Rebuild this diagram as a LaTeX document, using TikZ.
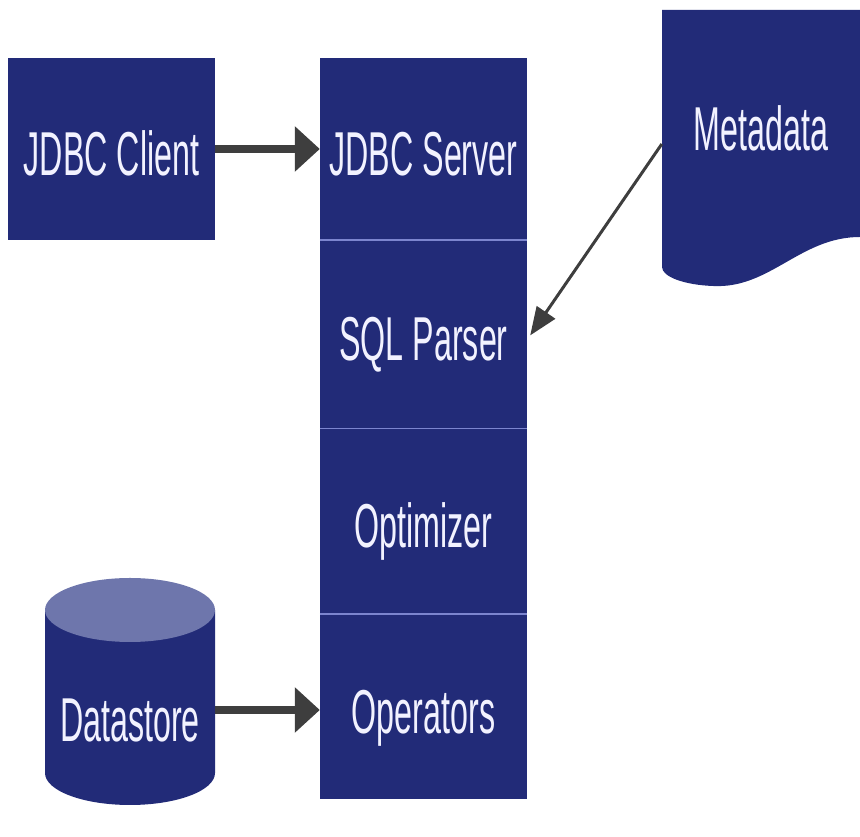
\documentclass[tikz,border=0pt]{standalone}
\usepackage{fontspec}
\setmainfont{Liberation Sans}[FakeStretch=0.52]
\usetikzlibrary{arrows.meta,positioning}

\definecolor{navy}{HTML}{222B78}
\definecolor{lidblue}{HTML}{6E76AC}
\definecolor{divline}{HTML}{7C85CF}
\definecolor{arrgray}{HTML}{3E3E3E}
\definecolor{txt}{HTML}{F2F2FF}

\begin{document}
\begin{tikzpicture}[x=1pt, y=1pt,
    block/.style={fill=navy, minimum width=207pt, inner sep=0pt, text=txt,
      text height=53pt, text depth=0pt, font=\fontsize{62}{70}\selectfont},
    label/.style={text=txt, inner sep=0pt, font=\fontsize{62}{70}\selectfont},
    divider/.style={draw=divline, line width=1.5pt},
    thickarrow/.style={draw=arrgray, line width=8pt, -{Triangle[length=25pt,width=44pt]}},
    thinarrow/.style={draw=arrgray, line width=3pt, -{Triangle[length=28pt,width=22pt]}}]
  \useasboundingbox (0,0) rectangle (860,837);

  % client and server stack
  \node (client) [block, minimum height=182pt] at (111.5,688) {JDBC Client};
  \node (server) [block, minimum height=182pt] at (423.5,688) {JDBC Server};
  \node (parser) [block, minimum height=188pt, below=0pt of server] {SQL Parser};
  \node (optimizer) [block, minimum height=185pt, below=0pt of parser] {Optimizer};
  \node (operators) [block, minimum height=185pt, below=0pt of optimizer] {Operators};
  \draw[divider] (server.south west) -- (server.south east);
  \draw[divider] (parser.south west) -- (parser.south east);
  \draw[divider] (optimizer.south west) -- (optimizer.south east);

  % metadata document
  \fill[navy] (662,827) -- (860,827) -- (860,600)
    .. controls (800,600) and (770,548) .. (713,551)
    .. controls (685,552) and (662,560) .. (662,570) -- cycle;
  \node (meta) [label, minimum width=198pt, minimum height=257pt] at (761,699) {};
  \node (metatext) [label] at (761,709) {Metadata};

  % datastore cylinder
  \fill[navy] (45,227) -- (45,64) arc[start angle=180, end angle=360, x radius=85, y radius=32]
    -- (215,227) -- cycle;
  \fill[lidblue] (130,227) ellipse[x radius=85, y radius=32];
  \node (store) [label, minimum width=170pt] at (130,127) {};
  \node (storetext) [label] at (130,117) {Datastore};

  \draw[thickarrow] (client) -- (server);
  \draw[thickarrow] (store.east) -- (store.east -| operators.west);
  \draw[thinarrow] ([yshift=-6pt]meta.west) -- ([xshift=3pt,yshift=-1pt]parser.east);
\end{tikzpicture}
\end{document}
